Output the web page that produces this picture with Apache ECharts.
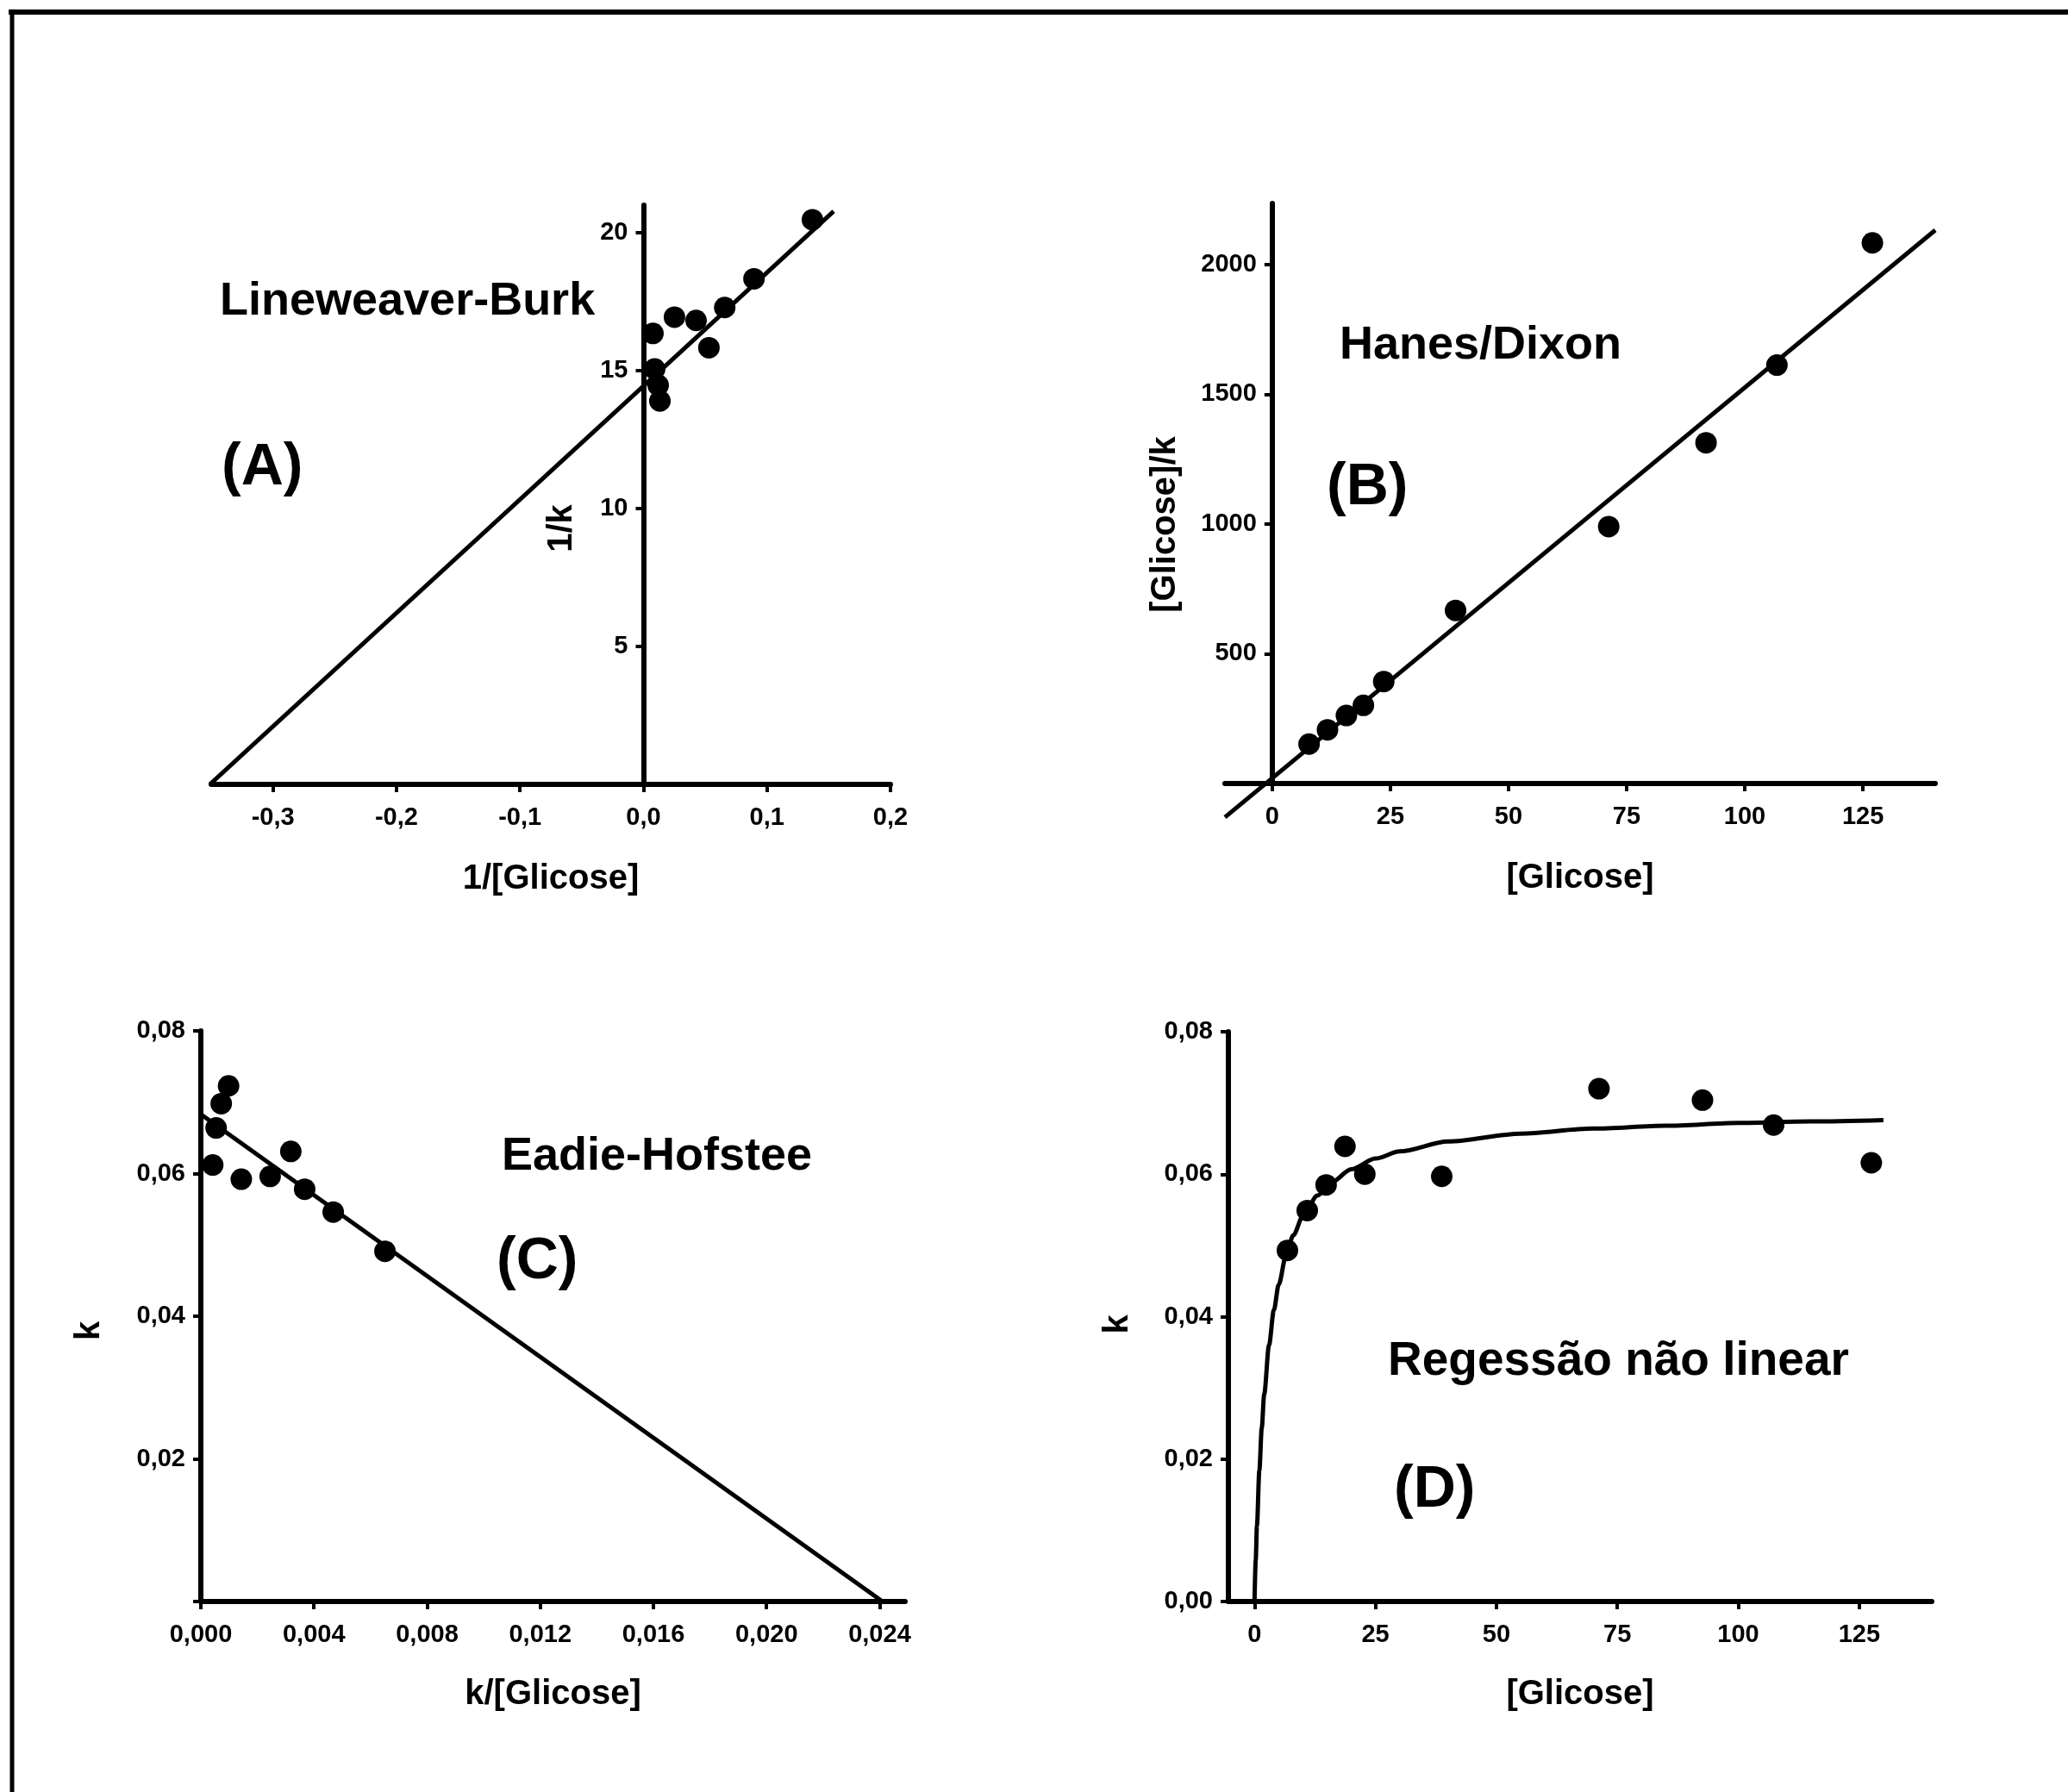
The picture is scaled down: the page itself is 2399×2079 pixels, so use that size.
<!DOCTYPE html>
<html><head><meta charset="utf-8">
<script src="https://cdn.jsdelivr.net/npm/echarts@6/dist/echarts.min.js"></script>
<style>html,body{margin:0;padding:0;background:#fff;}#c{width:2399px;height:2079px;}</style>
</head><body><div id="c"></div>
<script>
// ---------- Panel A : Lineweaver-Burk ----------
const lbX = [0.0077, 0.0091, 0.0119, 0.0133, 0.0251, 0.0426, 0.053, 0.0658, 0.0895, 0.1368];
const lbY = [16.35, 15.06, 14.47, 13.9, 16.94, 16.82, 15.83, 17.29, 18.33, 20.47];
const lbFitX = [-0.351, 0.154];
const lbFitY = [0, 20.78];
const lbXTicks = [-0.3, -0.2, -0.1, 0, 0.1, 0.2];
const lbXLabels = ['-0,3', '-0,2', '-0,1', '0,0', '0,1', '0,2'];
const lbYTicks = [0, 5, 10, 15, 20];
const lbYLabels = ['', '5', '10', '15', '20'];

// ---------- Panel B : Hanes/Dixon ----------
const hdX = [7.8, 11.7, 15.7, 19.3, 23.6, 38.8, 71.2, 91.8, 106.8, 127.0];
const hdY = [152, 207, 262, 301, 393, 667, 990, 1313, 1612, 2083];
const hdFitX = [-10, 140.3];
const hdFitY = [-130, 2132];
const hdXTicks = [0, 25, 50, 75, 100, 125];
const hdXLabels = ['0', '25', '50', '75', '100', '125'];
const hdYTicks = [0, 500, 1000, 1500, 2000];
const hdYLabels = ['', '500', '1000', '1500', '2000'];

// ---------- Panel C : Eadie-Hofstee ----------
const ehX = [0.00042, 0.00054, 0.00072, 0.00098, 0.00143, 0.00245, 0.00318, 0.00367, 0.00468, 0.00651];
const ehY = [0.0612, 0.0664, 0.0698, 0.0723, 0.0592, 0.0596, 0.0631, 0.0578, 0.0546, 0.0491];
const ehFitX = [0, 0.0241];
const ehFitY = [0.0683, 0];
const ehXTicks = [0, 0.004, 0.008, 0.012, 0.016, 0.020, 0.024];
const ehXLabels = ['0,000', '0,004', '0,008', '0,012', '0,016', '0,020', '0,024'];
const ehYTicks = [0, 0.02, 0.04, 0.06, 0.08];
const ehYLabels = ['', '0,02', '0,04', '0,06', '0,08'];

// ---------- Panel D : Regressão não linear ----------
const nlX = [6.8, 10.9, 14.8, 18.7, 22.8, 38.7, 71.2, 92.6, 107.3, 127.5];
const nlY = [0.0493, 0.0549, 0.0585, 0.0639, 0.0600, 0.0597, 0.0720, 0.0704, 0.0669, 0.0616];
const nlCurveX = [0, 0.25, 0.5, 1, 1.5, 2, 3, 4, 5, 6.5, 8, 10, 13, 16, 20, 25, 30, 40, 55, 70, 85, 100, 115, 130];
const nlCurveY = [0, 0.0058, 0.0106, 0.0184, 0.0244, 0.0291, 0.0360, 0.0409, 0.0445, 0.0485, 0.0514, 0.0541,
                  0.0570, 0.0589, 0.0607, 0.0622, 0.0632, 0.0646, 0.0657, 0.0664, 0.0668, 0.0672, 0.0674, 0.0676];
const nlXTicks = [0, 25, 50, 75, 100, 125];
const nlXLabels = ['0', '25', '50', '75', '100', '125'];
const nlYTicks = [0, 0.02, 0.04, 0.06, 0.08];
const nlYLabels = ['0,00', '0,02', '0,04', '0,06', '0,08'];

const FONT = '"Liberation Sans", Arial, sans-serif';
const zip = (xs, ys) => xs.map((x, i) => [x, ys[i]]);

function lookup(ticks, labels) {
  return function (v) {
    const i = ticks.findIndex(t => Math.abs(t - v) < 1e-9);
    return i >= 0 ? labels[i] : '';
  };
}

function axis(kind, grid, min, max, ticks, labels, name, nameGap, offset, namePad) {
  const labelVals = ticks.filter((t, i) => labels[i] !== '');
  return {
    type: 'value', gridIndex: grid, min: min, max: max,
    offset: offset || 0,
    name: name, nameLocation: 'middle', nameGap: nameGap,
    nameTextStyle: { fontFamily: FONT, fontWeight: 'bold', fontSize: 40, color: '#000',
                     padding: namePad || 0 },
    splitLine: { show: false },
    axisLine: { show: true, onZero: false, lineStyle: { color: '#000', width: 6 } },
    axisTick: { show: true, customValues: ticks, length: 9, lineStyle: { color: '#000', width: 4 } },
    axisLabel: { show: true, customValues: labelVals, formatter: lookup(ticks, labels),
                 margin: kind === 'x' ? 24 : 18,
                 fontFamily: FONT, fontWeight: 'bold', fontSize: 29, color: '#000' }
  };
}

const scatterStyle = { color: '#000', opacity: 1 };
const lineStyle = { color: '#000', width: 5, opacity: 1 };

const option = {
  animation: false,
  backgroundColor: '#fff',
  grid: [
    { left: 245, top: 238, width: 788, height: 672 },
    { left: 1421, top: 236, width: 824, height: 673 },
    { left: 233, top: 1196, width: 817, height: 662 },
    { left: 1425, top: 1197, width: 816, height: 661 }
  ],
  xAxis: [
    axis('x', 0, -0.35, 0.2, lbXTicks, lbXLabels, '1/[Glicose]', 90),
    axis('x', 1, -10, 140.3, hdXTicks, hdXLabels, '[Glicose]', 90),
    axis('x', 2, 0, 0.0249, ehXTicks, ehXLabels, 'k/[Glicose]', 88),
    axis('x', 3, -5.4, 140, nlXTicks, nlXLabels, '[Glicose]', 88)
  ],
  yAxis: [
    axis('y', 0, 0, 21, lbYTicks, lbYLabels, '1/k', 75, -501.5, [0, 78, 0, 0]),
    axis('y', 1, 0, 2235, hdYTicks, hdYLabels, '[Glicose]/k', 104, -54.8, [0, 72, 0, 0]),
    axis('y', 2, 0, 0.08, ehYTicks, ehYLabels, 'k', 109, 0, [0, 34, 0, 0]),
    axis('y', 3, 0, 0.08, nlYTicks, nlYLabels, 'k', 108, 0, [0, 18, 0, 0])
  ],
  series: [
    { type: 'line', xAxisIndex: 0, yAxisIndex: 0, data: zip(lbFitX, lbFitY), symbol: 'none', clip: false, lineStyle: lineStyle, z: 2 },
    { type: 'scatter', xAxisIndex: 0, yAxisIndex: 0, data: zip(lbX, lbY), symbol: 'circle', symbolSize: 25, itemStyle: scatterStyle, z: 3 },
    { type: 'line', xAxisIndex: 1, yAxisIndex: 1, data: zip(hdFitX, hdFitY), symbol: 'none', clip: false, lineStyle: lineStyle, z: 2 },
    { type: 'scatter', xAxisIndex: 1, yAxisIndex: 1, data: zip(hdX, hdY), symbol: 'circle', symbolSize: 25, itemStyle: scatterStyle, z: 3 },
    { type: 'line', xAxisIndex: 2, yAxisIndex: 2, data: zip(ehFitX, ehFitY), symbol: 'none', clip: false, lineStyle: lineStyle, z: 2 },
    { type: 'scatter', xAxisIndex: 2, yAxisIndex: 2, data: zip(ehX, ehY), symbol: 'circle', symbolSize: 25, itemStyle: scatterStyle, z: 3 },
    { type: 'line', xAxisIndex: 3, yAxisIndex: 3, data: zip(nlCurveX, nlCurveY), symbol: 'none', clip: false, smooth: 0.3, smoothMonotone: 'x', lineStyle: lineStyle, z: 2 },
    { type: 'scatter', xAxisIndex: 3, yAxisIndex: 3, data: zip(nlX, nlY), symbol: 'circle', symbolSize: 25, itemStyle: scatterStyle, z: 3 }
  ],
  graphic: [
    { type: 'line', shape: { x1: 10, y1: 14, x2: 2399, y2: 14 }, style: { stroke: '#000', lineWidth: 6 } },
    { type: 'line', shape: { x1: 14, y1: 11, x2: 14, y2: 2079 }, style: { stroke: '#000', lineWidth: 5 } },
    { type: 'text', left: 255, top: 323, style: { text: 'Lineweaver-Burk', fontFamily: FONT, fontWeight: 'bold', fontSize: 54, fill: '#000' } },
    { type: 'text', left: 257, top: 509, style: { text: '(A)', fontFamily: FONT, fontWeight: 'bold', fontSize: 68, fill: '#000' } },
    { type: 'text', left: 1554, top: 374, style: { text: 'Hanes/Dixon', fontFamily: FONT, fontWeight: 'bold', fontSize: 54, fill: '#000' } },
    { type: 'text', left: 1539, top: 532, style: { text: '(B)', fontFamily: FONT, fontWeight: 'bold', fontSize: 68, fill: '#000' } },
    { type: 'text', left: 582, top: 1315, style: { text: 'Eadie-Hofstee', fontFamily: FONT, fontWeight: 'bold', fontSize: 54, fill: '#000' } },
    { type: 'text', left: 576, top: 1430, style: { text: '(C)', fontFamily: FONT, fontWeight: 'bold', fontSize: 68, fill: '#000' } },
    { type: 'text', left: 1610, top: 1552, style: { text: 'Regessão não linear', fontFamily: FONT, fontWeight: 'bold', fontSize: 55, fill: '#000' } },
    { type: 'text', left: 1617, top: 1695, style: { text: '(D)', fontFamily: FONT, fontWeight: 'bold', fontSize: 68, fill: '#000' } }
  ]
};

const chart = echarts.init(document.getElementById('c'), null, { renderer: 'canvas', width: 2399, height: 2079 });
chart.setOption(option);
</script>
</body></html>
